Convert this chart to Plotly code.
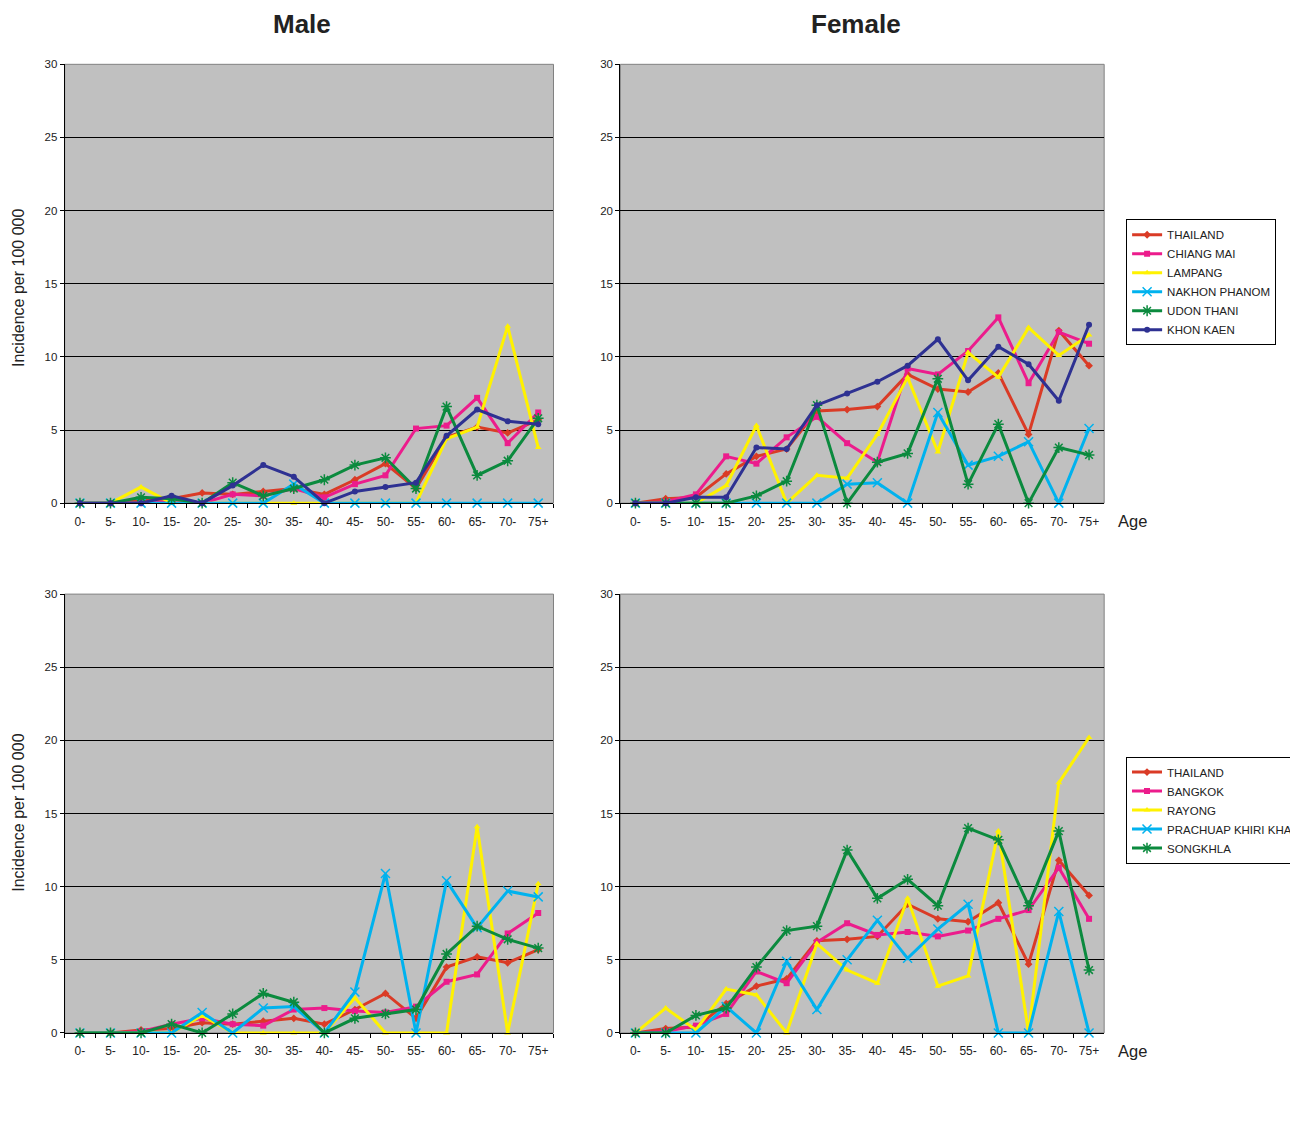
import plotly.graph_objects as go

ages = ["0-", "5-", "10-", "15-", "20-", "25-", "30-", "35-", "40-", "45-",
        "50-", "55-", "60-", "65-", "70-", "75+"]

# ---- Top row: North / North-East regions ----
male_north_names = ["THAILAND", "CHIANG MAI", "LAMPANG", "NAKHON PHANOM", "UDON THANI", "KHON KAEN"]
male_thailand = [0, 0, 0.2, 0.3, 0.7, 0.6, 0.8, 1.0, 0.6, 1.6, 2.7, 1.0, 4.5, 5.2, 4.8, 5.7]
male_chiangmai = [0, 0, 0, 0.1, 0, 0.6, 0.5, 1.0, 0.4, 1.3, 1.9, 5.1, 5.3, 7.2, 4.1, 6.2]
male_lampang = [0, 0, 1.1, 0, 0, 0, 0, 0, 0, 0, 0, 0, 4.4, 5.2, 12.1, 3.8]
male_nakhon = [0, 0, 0, 0, 0, 0, 0, 1.3, 0, 0, 0, 0, 0, 0, 0, 0]
male_udon = [0, 0, 0.4, 0.3, 0, 1.4, 0.5, 1.0, 1.6, 2.6, 3.1, 1.0, 6.6, 1.9, 2.9, 5.8]
male_khonkaen = [0, 0, 0, 0.5, 0, 1.2, 2.6, 1.8, 0, 0.8, 1.1, 1.4, 4.6, 6.4, 5.6, 5.4]

female_thailand = [0, 0.3, 0.4, 2.0, 3.2, 3.7, 6.3, 6.4, 6.6, 8.8, 7.8, 7.6, 8.9, 4.7, 11.8, 9.4]
female_chiangmai = [0, 0.1, 0.6, 3.2, 2.7, 4.5, 5.9, 4.1, 2.8, 9.2, 8.8, 10.4, 12.7, 8.2, 11.7, 10.9]
female_lampang = [0, 0, 0, 1.2, 5.3, 0, 1.9, 1.7, 4.7, 8.6, 3.5, 10.3, 8.6, 12.0, 10.1, 11.5]
female_nakhon = [0, 0, 0, 0, 0, 0, 0, 1.3, 1.4, 0, 6.2, 2.6, 3.2, 4.2, 0, 5.1]
female_udon = [0, 0, 0, 0, 0.5, 1.5, 6.7, 0, 2.8, 3.4, 8.5, 1.3, 5.4, 0, 3.8, 3.3]
female_khonkaen = [0, 0, 0.4, 0.4, 3.8, 3.7, 6.7, 7.5, 8.3, 9.4, 11.2, 8.4, 10.7, 9.5, 7.0, 12.2]

# ---- Bottom row: Central / South regions ----
south_names = ["THAILAND", "BANGKOK", "RAYONG", "PRACHUAP KHIRI KHAN", "SONGKHLA"]
male_bangkok = [0, 0, 0.1, 0.6, 1.0, 0.6, 0.5, 1.6, 1.7, 1.5, 1.4, 1.8, 3.5, 4.0, 6.8, 8.2]
male_rayong = [0, 0, 0, 0, 1.2, 0, 0, 0, 0, 2.4, 0, 0, 0, 14.1, 0, 10.2]
male_prachuap = [0, 0, 0, 0, 1.4, 0, 1.7, 1.8, 0, 2.8, 10.9, 0, 10.4, 7.2, 9.7, 9.3]
male_songkhla = [0, 0, 0, 0.6, 0, 1.3, 2.7, 2.1, 0, 1.0, 1.3, 1.6, 5.4, 7.3, 6.4, 5.8]

female_bangkok = [0, 0.1, 0.5, 1.3, 4.2, 3.4, 6.2, 7.5, 6.7, 6.9, 6.6, 7.0, 7.8, 8.4, 11.3, 7.8]
female_rayong = [0, 1.7, 0.2, 3.0, 2.6, 0, 6.1, 4.3, 3.4, 9.2, 3.2, 3.9, 13.8, 0, 17.1, 20.2]
female_prachuap = [0, 0, 0, 1.8, 0, 4.9, 1.6, 5.0, 7.7, 5.1, 7.1, 8.8, 0, 0, 8.3, 0]
female_songkhla = [0, 0, 1.2, 1.7, 4.5, 7.0, 7.3, 12.5, 9.2, 10.5, 8.7, 14.0, 13.2, 8.7, 13.8, 4.3]

y_ticks = [0, 5, 10, 15, 20, 25, 30]

RED = "#DA3B26"
MAGENTA = "#EC1C8C"
YELLOW = "#FFF200"
CYAN = "#00B2EE"
GREEN = "#0B8A3E"
NAVY = "#2E3192"

styles_north = [
    (RED, "diamond"), (MAGENTA, "square"), (YELLOW, "triangle-up"),
    (CYAN, "x-thin-open"), (GREEN, "asterisk-open"), (NAVY, "circle"),
]
styles_south = [
    (RED, "diamond"), (MAGENTA, "square"), (YELLOW, "triangle-up"),
    (CYAN, "x-thin-open"), (GREEN, "asterisk-open"),
]

W, H = 1298, 1123
FONT = "Arial, Liberation Sans, sans-serif"


# the page renders with a small offset / scale; map target pixel -> layout pixel
def px(rx):
    return (rx - 7.2) / 0.997


def py(ry):
    return (ry - 13.66) / 0.9897


def fx(rx):
    return px(rx) / W


def fy(ry):
    return 1 - py(ry) / H


fig = go.Figure()


def add_series(names, series, styles, xa, ya, legend, showlegend):
    for name, vals, (col, sym) in zip(names, series, styles):
        open_sym = sym.endswith("open")
        fig.add_trace(go.Scatter(
            x=ages, y=vals, name=name, mode="lines+markers",
            xaxis=xa, yaxis=ya, legend=legend, showlegend=showlegend,
            cliponaxis=False,
            line=dict(color=col, width=3),
            marker=dict(symbol=sym, size=9 if open_sym else 6, color=col,
                        line=dict(color=col, width=1.5 if open_sym else 0)),
        ))


add_series(male_north_names,
           [male_thailand, male_chiangmai, male_lampang, male_nakhon, male_udon, male_khonkaen],
           styles_north, "x", "y", "legend", False)
add_series(male_north_names,
           [female_thailand, female_chiangmai, female_lampang, female_nakhon, female_udon, female_khonkaen],
           styles_north, "x2", "y2", "legend", True)
add_series(south_names,
           [male_thailand, male_bangkok, male_rayong, male_prachuap, male_songkhla],
           styles_south, "x3", "y3", "legend2", False)
add_series(south_names,
           [female_thailand, female_bangkok, female_rayong, female_prachuap, female_songkhla],
           styles_south, "x4", "y4", "legend2", True)

# panel target pixel boxes (left, right, top, bottom)
boxes = [(64, 554, 64, 503), (621, 1106, 64, 503), (64, 554, 594, 1033), (621, 1106, 594, 1033)]

layout = dict(
    width=W, height=H, margin=dict(l=0, r=0, t=0, b=0),
    paper_bgcolor="white", plot_bgcolor="#C0C0C0",
    font=dict(family=FONT, size=11, color="#222"),
    shapes=[], annotations=[],
)

for i, (l, r, t, b) in enumerate(boxes):
    sfx = "" if i == 0 else str(i + 1)
    layout["xaxis" + sfx] = dict(
        domain=[fx(l), fx(r)], anchor="y" + sfx, type="category",
        categoryorder="array", categoryarray=ages,
        range=[-0.5, 15.5], tickson="boundaries", ticks="outside", ticklen=4,
        tickcolor="black", showline=True, linecolor="black", linewidth=1,
        showgrid=False, tickfont=dict(size=12, color="#222"), fixedrange=True,
        ticklabelstandoff=7,
    )
    layout["yaxis" + sfx] = dict(
        domain=[fy(b), fy(t)], anchor="x" + sfx, range=[0, 30],
        tickvals=y_ticks, ticks="outside", ticklen=4, tickcolor="black",
        showline=True, linecolor="black", linewidth=1, showgrid=True,
        gridcolor="black", gridwidth=1, zeroline=False,
        tickfont=dict(size=11.5, color="#222"), fixedrange=True,
    )
    layout["shapes"].append(dict(
        type="rect", xref="paper", yref="paper", x0=fx(l), x1=fx(r),
        y0=fy(b), y1=fy(t), line=dict(color="#808080", width=1),
        layer="below",
    ))

legend_common = dict(
    bgcolor="white", bordercolor="black", borderwidth=1,
    font=dict(family=FONT, size=11.5, color="#222"), xanchor="left", yanchor="middle",
    itemwidth=30, tracegroupgap=0,
)
layout["legend"] = dict(legend_common, x=fx(1128), y=fy(282))
layout["legend2"] = dict(legend_common, x=fx(1128), y=fy(810))

anns = [
    dict(text="<b>Male</b>", x=302, y=24, size=26),
    dict(text="<b>Female</b>", x=857, y=24, size=26),
    dict(text="Age", x=1134, y=521, size=16.5),
    dict(text="Age", x=1134, y=1051, size=16.5),
]
for a in anns:
    layout["annotations"].append(dict(
        text=a["text"], x=fx(a["x"]), y=fy(a["y"]), xref="paper", yref="paper",
        xanchor="center", yanchor="middle", showarrow=False,
        font=dict(family=FONT, size=a["size"], color="#222"),
    ))
for yc in [288, 813]:
    layout["annotations"].append(dict(
        text="Incidence per 100 000", x=fx(17), y=fy(yc), xref="paper", yref="paper",
        xanchor="center", yanchor="middle", showarrow=False, textangle=-90,
        font=dict(family=FONT, size=16, color="#222"),
    ))

fig.update_layout(**layout)
fig.write_html("out.html")
